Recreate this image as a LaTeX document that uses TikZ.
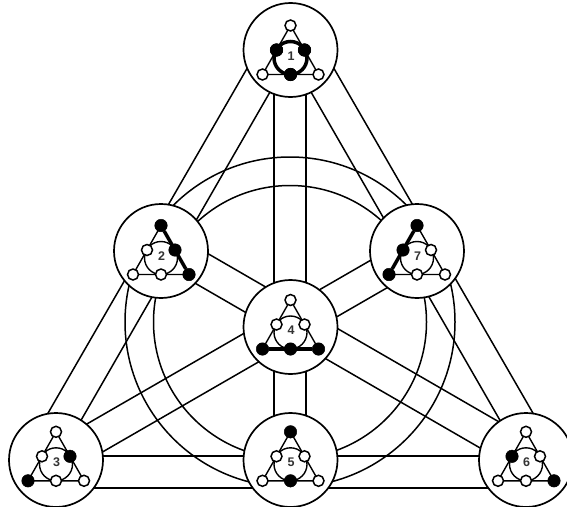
\documentclass[tikz,border=0pt]{standalone}
\usepackage{fontspec}
\setmainfont{Liberation Sans}
\usetikzlibrary{calc}
\tikzset{
  wire/.style={line width=1.5pt,draw=black},
  major/.style={circle,draw=black,fill=white,line width=1.7pt,minimum size=94pt,inner sep=0pt},
  open/.style={circle,draw=black,fill=white,line width=1.5pt,minimum size=11pt,inner sep=0pt},
  solid/.style={circle,draw=black,fill=black,line width=0.5pt,minimum size=12.5pt,inner sep=0pt},
  num/.style={font=\bfseries\fontsize{12.5}{12.5}\selectfont,text=black!80,inner sep=0pt},
  tri/.style={line width=1.4pt,draw=black},
  heavy/.style={line width=3.5pt,draw=black}
}
% \gy shifts the glyph from the circle centre.
% #1 name, #2 position, #3 label, #4..#9 styles of apex, left, right, bottom-left, bottom, bottom-right
\newcommand{\gy}{0}
\newcommand{\fanonode}[9]{
  \node[major] (#1) at (#2) {};
  \coordinate (#1G) at ($(#1)+(0,\gy)$);
  \coordinate (#1A) at ($(#1G)+(0,-24.5)$);
  \coordinate (#1L) at ($(#1G)+(-28,24.5)$);
  \coordinate (#1R) at ($(#1G)+(28,24.5)$);
  \coordinate (#1C) at ($(#1G)+(0,8)$);
  \draw[tri] (#1A) -- (#1L) -- (#1R) -- cycle;
  \draw[tri] (#1C) circle[radius=16.5];
  \node[num] (#1n) at ($(#1G)+(0.5,6)$) {#3};
  \node[#4] (#1p1) at (#1A) {};
  \node[#5] (#1p2) at ($(#1G)+(-14,0)$) {};
  \node[#6] (#1p3) at ($(#1G)+(14,0)$) {};
  \node[#7] (#1p4) at (#1L) {};
  \node[#8] (#1p5) at ($(#1G)+(0,24.5)$) {};
  \node[#9] (#1p6) at (#1R) {};
}
\begin{document}
\begin{tikzpicture}[x=1pt,y=-1pt]
\useasboundingbox (0,0) rectangle (567,506);
% named line ends, all under the major circles
\coordinate (a1) at (250,63.3);   \coordinate (a3) at (40,427);
\coordinate (b1) at (270,92);     \coordinate (b3) at (76,429);
\coordinate (a1r) at (331,63.3);  \coordinate (a6) at (541,427);
\coordinate (b1r) at (311,92);    \coordinate (b6) at (505,429);
\coordinate (c1) at (274,50);     \coordinate (c5) at (274,460);
\coordinate (d1) at (306,50);     \coordinate (d5) at (306,460);
\coordinate (e3) at (56,456);     \coordinate (e6) at (526,456);
\coordinate (f3) at (56,488);     \coordinate (f6) at (526,488);
\coordinate (g3) at (56,441.8);   \coordinate (g7) at (417,233.5);
\coordinate (h3) at (56,478.8);   \coordinate (h7) at (417,270.5);
\coordinate (i2) at (161,226.5);  \coordinate (i6) at (526,437.5);
\coordinate (j2) at (161,263.5);  \coordinate (j6) at (526,474.5);
\coordinate (ctr) at (290,322);
\draw[wire] (ctr) circle[radius=165];
\draw[wire] (ctr) circle[radius=136.5];
\foreach \p/\q in {a1/a3,b1/b3,a1r/a6,b1r/b6,c1/c5,d1/d5,e3/e6,f3/f6,g3/g7,h3/h7,i2/i6,j2/j6}
  \draw[wire] (\p) -- (\q);
\fanonode{n1}{290.5,50}{1}{open}{solid}{solid}{open}{solid}{open}
\draw[heavy] (n1C) circle[radius=16.5];
\node[solid] at (n1p2) {}; \node[solid] at (n1p3) {}; \node[solid] at (n1p5) {};
\renewcommand{\gy}{-1}
\fanonode{n2}{161,251}{2}{solid}{open}{solid}{open}{open}{solid}
\draw[heavy] (n2p1) -- (n2p6);
\fanonode{n7}{417,251}{7}{solid}{solid}{open}{solid}{open}{open}
\draw[heavy] (n7p1) -- (n7p4);
\renewcommand{\gy}{-2.5}
\fanonode{n4}{290.5,327}{4}{open}{open}{open}{solid}{solid}{solid}
\draw[heavy] (n4p4) -- (n4p6);
\renewcommand{\gy}{-3.7}
\fanonode{n3}{56,460}{3}{open}{open}{solid}{solid}{open}{open}
\fanonode{n5}{290.5,460}{5}{solid}{open}{open}{open}{solid}{open}
\fanonode{n6}{526,460}{6}{open}{solid}{open}{open}{open}{solid}
\end{tikzpicture}
\end{document}
